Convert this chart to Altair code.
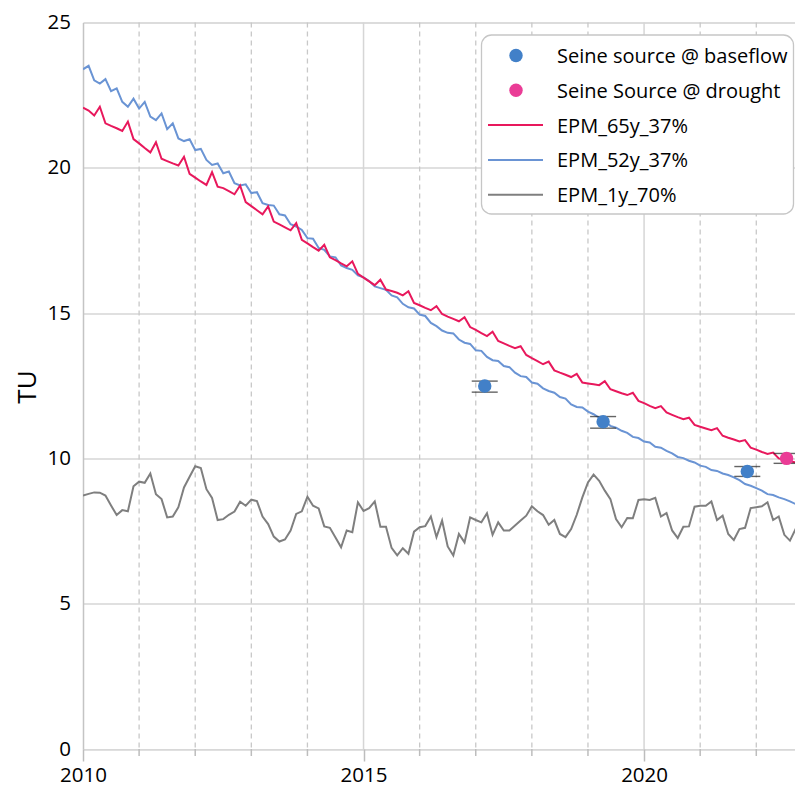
import altair as alt
import pandas as pd

# ---------------- data ----------------
t_start = 2010.0
t_step = 0.1

epm65 = [22.07, 21.97, 21.80, 22.10, 21.53, 21.44, 21.36, 21.27, 21.59, 20.99,
         20.84, 20.68, 20.53, 20.88, 20.31, 20.23, 20.15, 20.08, 20.38, 19.79,
         19.66, 19.53, 19.41, 19.85, 19.35, 19.30, 19.20, 19.09, 19.39, 18.82,
         18.68, 18.54, 18.40, 18.67, 18.15, 18.05, 17.95, 17.85, 18.10, 17.52,
         17.40, 17.27, 17.15, 17.35, 16.92, 16.82, 16.71, 16.61, 16.78, 16.35,
         16.22, 16.09, 15.96, 16.15, 15.81, 15.76, 15.70, 15.61, 15.75, 15.35,
         15.27, 15.18, 15.10, 15.24, 14.97, 14.88, 14.80, 14.72, 14.86, 14.52,
         14.42, 14.31, 14.21, 14.36, 14.04, 13.96, 13.87, 13.79, 13.86, 13.56,
         13.45, 13.35, 13.24, 13.33, 13.03, 12.95, 12.88, 12.80, 12.91, 12.61,
         12.58, 12.55, 12.52, 12.66, 12.38, 12.31, 12.24, 12.18, 12.26, 11.98,
         11.90, 11.81, 11.73, 11.80, 11.58, 11.50, 11.42, 11.35, 11.40, 11.15,
         11.09, 11.03, 10.97, 11.04, 10.78, 10.71, 10.65, 10.58, 10.63, 10.37,
         10.30, 10.22, 10.15, 10.20, 10.00, 9.95, 9.90, 9.86, 9.83]

epm52 = [23.39, 23.51, 23.01, 22.90, 23.05, 22.64, 22.73, 22.27, 22.10, 22.38,
         22.04, 22.27, 21.76, 21.64, 21.87, 21.33, 21.53, 21.01, 20.92, 20.98,
         20.61, 20.65, 20.27, 20.10, 20.15, 19.81, 19.87, 19.47, 19.39, 19.43,
         19.13, 19.16, 18.78, 18.72, 18.70, 18.40, 18.36, 18.06, 17.98, 17.86,
         17.58, 17.56, 17.24, 17.18, 16.95, 16.92, 16.64, 16.55, 16.49, 16.30,
         16.23, 16.10, 15.92, 15.86, 15.80, 15.61, 15.54, 15.32, 15.20, 15.16,
         14.95, 14.90, 14.66, 14.55, 14.40, 14.32, 14.30, 14.09, 13.98, 13.94,
         13.72, 13.70, 13.49, 13.38, 13.35, 13.18, 13.14, 12.95, 12.83, 12.80,
         12.61, 12.57, 12.41, 12.32, 12.26, 12.11, 12.06, 11.86, 11.77, 11.75,
         11.61, 11.52, 11.40, 11.27, 11.12, 11.06, 10.95, 10.88, 10.74, 10.70,
         10.58, 10.55, 10.40, 10.37, 10.26, 10.17, 10.05, 10.01, 9.92, 9.86,
         9.75, 9.71, 9.60, 9.57, 9.48, 9.43, 9.35, 9.25, 9.12, 9.06,
         8.98, 8.89, 8.77, 8.74, 8.66, 8.60, 8.52, 8.43, 8.37]

epm1 = [8.72, 8.78, 8.83, 8.82, 8.72, 8.38, 8.05, 8.22, 8.18, 9.04,
        9.20, 9.16, 9.48, 8.77, 8.60, 7.97, 8.00, 8.32, 9.00, 9.37,
        9.73, 9.67, 8.94, 8.64, 7.88, 7.91, 8.06, 8.17, 8.51, 8.37,
        8.58, 8.53, 8.00, 7.74, 7.31, 7.14, 7.21, 7.52, 8.09, 8.18,
        8.68, 8.37, 8.28, 7.66, 7.61, 7.28, 6.94, 7.52, 7.46, 8.49,
        8.19, 8.29, 8.52, 7.65, 7.65, 6.92, 6.66, 6.91, 6.72, 7.48,
        7.63, 7.67, 8.00, 7.29, 7.86, 6.97, 6.66, 7.40, 7.11, 7.97,
        7.88, 7.80, 8.11, 7.37, 7.80, 7.52, 7.52, 7.69, 7.86, 8.03,
        8.35, 8.18, 8.05, 7.72, 7.88, 7.40, 7.29, 7.57, 8.06, 8.66,
        9.17, 9.44, 9.23, 8.89, 8.60, 7.91, 7.63, 7.95, 7.94, 8.57,
        8.59, 8.57, 8.64, 8.00, 8.12, 7.52, 7.26, 7.65, 7.66, 8.34,
        8.37, 8.37, 8.52, 7.88, 8.03, 7.40, 7.19, 7.57, 7.61, 8.29,
        8.32, 8.35, 8.49, 7.88, 8.00, 7.37, 7.17, 7.57, 7.61]

dates = [round(t_start + t_step * i, 2) for i in range(len(epm65))]

base_t = [2017.16, 2019.27, 2021.84]
base_v = [12.49, 11.26, 9.55]
base_lo = [12.28, 11.04, 9.38]
base_hi = [12.66, 11.44, 9.72]

drought_t = [2022.54]
drought_v = [10.00]
drought_lo = [9.83]
drought_hi = [10.17]

minor_years = [2011, 2012, 2013, 2014, 2016, 2017, 2018, 2019, 2021, 2022]
major_years = [2015, 2020]
x_label_years = [2010, 2015, 2020]
y_ticks = [0, 5, 10, 15, 20, 25]

legend_labels = ["Seine source @ baseflow", "Seine Source @ drought",
                 "EPM_65y_37%", "EPM_52y_37%", "EPM_1y_70%"]
legend_colors = ["#4280c8", "#ea3c96", "#e8185c", "#6a94d4", "#7f7f7f"]
legend_kinds = ["dot", "dot", "line", "line", "line"]

RED, BLUE, GREY = "#e8185c", "#6a94d4", "#7f7f7f"
DOT_BLUE, DOT_PINK = "#4280c8", "#ea3c96"
GRID = "#d6d6d6"
FONT = "Open Sans"

W, H = 712, 726.5          # 56.1 px per year, ~29.06 px per TU
X_END = 2022.69
TOP = 14.5

# ---------------- frames ----------------
lines_df = pd.DataFrame({"t": dates, "EPM_65y_37%": epm65,
                         "EPM_52y_37%": epm52, "EPM_1y_70%": epm1})
base_df = pd.DataFrame({"t": base_t, "v": base_v, "lo": base_lo, "hi": base_hi})
drought_df = pd.DataFrame({"t": drought_t, "v": drought_v, "lo": drought_lo, "hi": drought_hi})
minor_df = pd.DataFrame({"t": minor_years})
major_df = pd.DataFrame({"t": major_years})
one = pd.DataFrame({"a": [0]})

xs = alt.Scale(domain=[2010, X_END], nice=False, zero=False)
ys = alt.Scale(domain=[0, 25], nice=False, zero=True)

x_axis = alt.Axis(values=x_label_years, format="d", grid=False, domain=False,
                  tickSize=12, tickColor="#bdbdbd", tickWidth=1.5,
                  labelFont=FONT, labelFontSize=20.5, labelColor="#000000",
                  labelPadding=4, labelFlush=False, labelOverlap=False)
y_axis = alt.Axis(values=y_ticks, grid=True, gridColor=GRID, gridWidth=1.5,
                  domain=True, domainColor="#c4c4c4", domainWidth=1.5,
                  tickSize=0, labelFont=FONT, labelFontSize=20.5,
                  labelColor="#000000", labelPadding=12.5,
                  title="TU", titleFont=FONT, titleFontSize=26,
                  titleFontWeight="normal", titleColor="#000000",
                  titleAngle=270, titleX=-56, titleY=364,
                  titleAlign="center", titleBaseline="middle")

X = alt.X("t:Q", scale=xs, axis=x_axis, title=None)

# vertical grid (dashed yearly, solid every 5 years) and minor ticks
minor_grid = alt.Chart(minor_df).mark_rule(color="#c8c8c8", strokeWidth=1.3,
                                          strokeDash=[5, 4]).encode(
    x=X, y=alt.value(0), y2=alt.value(H))
major_grid = alt.Chart(major_df).mark_rule(color=GRID, strokeWidth=1.5).encode(
    x=X, y=alt.value(0), y2=alt.value(H))
minor_ticks = alt.Chart(minor_df).mark_rule(color="#bdbdbd", strokeWidth=1.5).encode(
    x=X, y=alt.value(H), y2=alt.value(H + 7))


def series_line(name, color):
    return alt.Chart(lines_df).mark_line(color=color, strokeWidth=2, clip=True).encode(
        x=X, y=alt.Y(f"{name}:Q", scale=ys, axis=y_axis))


grey_line = series_line("EPM_1y_70%", GREY)
blue_line = series_line("EPM_52y_37%", BLUE)
red_line = series_line("EPM_65y_37%", RED)


def obs_layers(df, color):
    bar = alt.Chart(df).mark_rule(color="#222222", strokeWidth=1.2).encode(
        x=X, y=alt.Y("lo:Q", scale=ys), y2="hi:Q")
    cap_lo = alt.Chart(df).mark_tick(orient="horizontal", size=26, thickness=1.4,
                                     color="#222222").encode(x=X, y=alt.Y("lo:Q", scale=ys))
    cap_hi = alt.Chart(df).mark_tick(orient="horizontal", size=26, thickness=1.4,
                                     color="#222222").encode(x=X, y=alt.Y("hi:Q", scale=ys))
    dot = alt.Chart(df).mark_point(filled=True, size=180, opacity=1, color=color).encode(
        x=X, y=alt.Y("v:Q", scale=ys))
    return [bar, cap_lo, cap_hi, dot]


# ---------------- manual legend ----------------
LX0, LX1, LY0, LY1 = 398.5, 710.5, 12.5, 191.5
row_y0, row_dy = 33.0, 34.8
legend_layers = [alt.Chart(one).mark_rect(fill="white", stroke="#c6c6c6", strokeWidth=1.3,
                                          cornerRadius=10).encode(
    x=alt.value(LX0), x2=alt.value(LX1), y=alt.value(LY0), y2=alt.value(LY1))]
for k, (lab, col, kind) in enumerate(zip(legend_labels, legend_colors, legend_kinds)):
    yk = row_y0 + row_dy * k
    if kind == "dot":
        legend_layers.append(alt.Chart(one).mark_point(filled=True, size=180, opacity=1,
                                                       color=col).encode(
            x=alt.value(433), y=alt.value(yk)))
    else:
        legend_layers.append(alt.Chart(one).mark_rule(color=col, strokeWidth=2).encode(
            x=alt.value(405), x2=alt.value(460), y=alt.value(yk)))
    legend_layers.append(alt.Chart(one).mark_text(align="left", baseline="middle", font=FONT,
                                                  fontSize=20, color="#000000").encode(
        x=alt.value(474), y=alt.value(yk + 1.5), text=alt.value(lab)))

chart = alt.layer(
    minor_grid, major_grid, minor_ticks,
    grey_line, blue_line, red_line,
    *obs_layers(base_df, DOT_BLUE), *obs_layers(drought_df, DOT_PINK),
    *legend_layers,
).properties(
    width=W, height=H,
    autosize=alt.AutoSizeParams(type="none"),
    padding={"left": 75, "top": TOP, "right": 0, "bottom": 40},
).configure_view(stroke=None).configure(background="white")

chart.save("out.html", embed_options={"renderer": "svg", "actions": False})
